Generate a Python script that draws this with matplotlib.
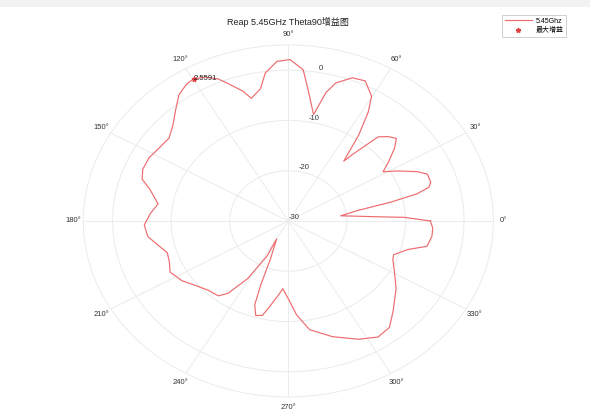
import numpy as np
import matplotlib
matplotlib.use("Agg")
import matplotlib.pyplot as plt
from matplotlib.patches import Rectangle

plt.rcParams['font.family'] = ['Liberation Sans', 'Noto Sans CJK SC', 'DejaVu Sans']

# ---- data ----
angle_deg = [0, 2.1, 3.3, 6.6, 10.1, 12.1, 13.8, 15.6, 17.5, 21.4, 24, 28, 31.2, 34.2, 38.6,
             41.7, 44.6, 47.5, 50.5, 51.5, 54.9, 57.8, 60.2, 64.8, 69, 73.6, 75.9, 78.5,
             82.7, 85.2, 89.5, 93.5, 97.6, 100.3, 104.5, 106.8, 110.3, 113, 116.4, 119.8,
             122.5, 126.6, 130.8, 136, 141, 146.7, 152.1, 157.5, 161.6, 165, 171.3, 176.4,
             181.8, 187.3, 192.8, 197, 202, 206.7, 213.2, 218.9, 225.3, 231.2, 234.4, 238.8,
             242.5, 240.9, 248, 249.7, 251, 253.5, 256.7, 259, 263.5, 266, 271, 274.3, 279.5,
             288.1, 297, 303.6, 309.2, 314.7, 318.4, 323.8, 330.6, 336.9, 339.6, 344.5, 348,
             352.9, 356.7, 360]
gain_db = [-5.75, -10.2, -15.2, -21.0, -17.8, -12.1, -7.4, -5.1, -4.5, -4.5, -5.9, -8.8, -11.1,
           -9.4, -6.8, -5.3, -6.1, -7.3, -13.0, -14.8, -9.1, -4.4, -1.4, 0.8, 0.5, -1.4, -3.7,
           -8.4, -3.6, 0.2, 2.1, 1.8, -0.3, -3.3, -4.8, -3.0, -1.0, 0.7, 1.95, 2.5591, 2.3,
           1.3, -0.6, -2.6, -3.8, -3.6, -3.1, -3.1, -3.7, -5.5, -7.5, -6.4, -5.4, -5.8, -7.4,
           -8.4, -8.1, -7.4, -8.3, -9.6, -10.6, -10.9, -12.3, -16.6, -22.2, -25.9, -21.8,
           -16.4, -12.4, -10.4, -10.7, -12.4, -15.2, -16.5, -13.9, -11.3, -8.1, -5.8, -3.6,
           -2.3, -2.7, -4.6, -5.8, -7.2, -9.2, -10.6, -10.8, -8.8, -5.8, -5.3, -5.3, -5.75]
max_gain = 2.5591
max_angle = 119.8
r_ticks = [-30, -20, -10, 0]
r_limits = (-30, 5)
theta_ticks = list(range(0, 360, 30))
theta_labels = [f"{t}°" for t in theta_ticks]
title_text = "Reap 5.45GHz Theta90增益图"
legend_labels = ["5.45Ghz", "最大增益"]

# ---- figure ----
fig = plt.figure(figsize=(5.9, 4.15), dpi=100)
fig.patches.append(Rectangle((0, 1 - 7/415), 1, 7/415, transform=fig.transFigure,
                             facecolor='#f2f2f2', edgecolor='none', zorder=0))

ax = fig.add_axes([0.1412, 0.0434, 0.695, 0.8482], projection='polar')
ax.set_aspect('auto')

line_color = '#ee6b6e'
th = np.deg2rad(angle_deg)
l1, = ax.plot(th, gain_db, color=line_color, lw=0.85, label=legend_labels[0])
l2, = ax.plot([np.deg2rad(max_angle)], [max_gain], linestyle='none', marker='*',
              color='#e04040', markersize=3.5, label=legend_labels[1])
ax.text(np.deg2rad(max_angle), max_gain, f"{max_gain:.4f}".rstrip('0'), fontsize=5.5,
        color='#222222', ha='left', va='center')

ax.set_ylim(*r_limits)
ax.set_yticks(r_ticks)
ax.set_yticklabels([str(t) for t in r_ticks], fontsize=5.5, color='#333333')
ax.set_rlabel_position(80)
ax.set_xticks(np.deg2rad(theta_ticks))
ax.set_xticklabels(theta_labels, fontsize=5.5, color='#333333')
ax.tick_params(axis='x', pad=-3)
ax.grid(True, color='#ebebeb', lw=0.7)
ax.spines['polar'].set_color('#ebebeb')
ax.spines['polar'].set_linewidth(0.7)

fig.text(0.488, 0.947, title_text, ha='center', va='center', fontsize=6.5, color='#222222')

leg = fig.legend(handles=[l1, l2], loc='upper right', bbox_to_anchor=(0.966, 0.972),
                 fontsize=5, frameon=True, fancybox=False, handlelength=3.8,
                 borderpad=0.4, labelspacing=0.3, handletextpad=0.6, markerfirst=True)
leg.get_frame().set_edgecolor('#bbbbbb')
leg.get_frame().set_linewidth(0.6)

fig.savefig("out.png", dpi=100)
